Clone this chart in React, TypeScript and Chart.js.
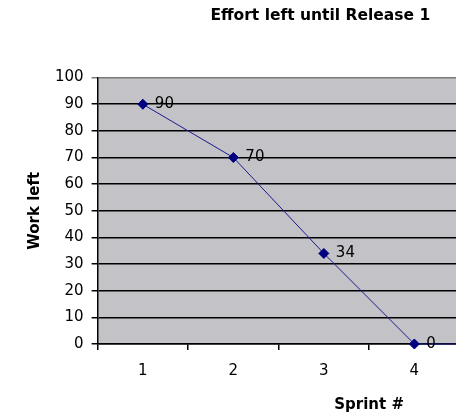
import React, { useEffect, useRef } from "react";
import { Chart, registerables } from "chart.js";

Chart.register(...registerables);

const sprints = ["1", "2", "3", "4", "5", "6"];
const workLeft = [90, 70, 34, 0, 0, 0];
const chartTitle = "Effort left until Release 1";
const yTitle = "Work left";
const xTitle = "Sprint #";

const plotBg = {
  id: "plotBg",
  beforeDraw(chart: any) {
    const { ctx, chartArea } = chart;
    ctx.save();
    ctx.fillStyle = "#C3C2C6";
    ctx.fillRect(chartArea.left, chartArea.top, chartArea.right - chartArea.left, chartArea.bottom - chartArea.top);
    ctx.restore();
  },
};

const dataLabels = {
  id: "dataLabels",
  afterDatasetsDraw(chart: any) {
    const { ctx } = chart;
    const meta = chart.getDatasetMeta(0);
    const values = chart.data.datasets[0].data;
    ctx.save();
    ctx.font = "15px 'DejaVu Sans'";
    ctx.fillStyle = "#000";
    ctx.textAlign = "left";
    ctx.textBaseline = "middle";
    meta.data.forEach((pt: any, i: number) => {
      ctx.fillText(String(values[i]), pt.x + 12, pt.y);
    });
    ctx.restore();
  },
};

export default function App() {
  const ref = useRef<HTMLCanvasElement>(null);
  useEffect(() => {
    if (!ref.current) return;
    const chart = new Chart(ref.current, {
      type: "line",
      data: {
        labels: sprints,
        datasets: [
          {
            data: workLeft,
            borderColor: "#1A1A90",
            borderWidth: 1,
            backgroundColor: "#000080",
            pointStyle: "rectRot",
            pointRadius: 5,
            pointBackgroundColor: "#000080",
            pointBorderColor: "#000080",
            pointBorderWidth: 1,
            tension: 0,
            clip: false,
          },
        ],
      },
      options: {
        animation: false,
        responsive: false,
        devicePixelRatio: 1,
        layout: { padding: { left: 0, right: 7.4, top: 0, bottom: 0 } },
        plugins: {
          legend: { display: false },
          tooltip: { enabled: false },
          title: {
            display: true,
            text: chartTitle,
            color: "#000",
            font: { family: "'DejaVu Sans'", size: 15.5, weight: "bold" },
            padding: { top: 7, bottom: 52 },
          },
        },
        scales: {
          x: {
            type: "category",
            offset: true,
            grid: {
              offset: true,
              drawOnChartArea: false,
              drawTicks: true,
              tickLength: 6,
              color: "#000",
              lineWidth: 1.5,
            },
            border: { color: "#000", width: 1.5 },
            ticks: {
              color: "#000",
              font: { family: "'DejaVu Sans'", size: 15 },
              padding: 12,
              maxRotation: 0,
              autoSkip: false,
            },
            title: {
              display: true,
              text: xTitle,
              color: "#000",
              font: { family: "'DejaVu Sans'", size: 15, weight: "bold" },
              padding: { top: 0, bottom: 1 },
            },
            afterFit(scale: any) {
              scale.height = 71;
            },
          },
          y: {
            min: 0,
            max: 100,
            ticks: {
              stepSize: 10,
              color: "#000",
              font: { family: "'DejaVu Sans'", size: 15 },
              padding: 8,
            },
            grid: {
              color: (c: any) => (c.tick && c.tick.value === 100 ? "#7A7A7A" : "#000"),
              lineWidth: 1.5,
              tickLength: 6,
              drawTicks: true,
            },
            border: { color: "#000", width: 1.5 },
            title: {
              display: true,
              text: yTitle,
              color: "#000",
              font: { family: "'DejaVu Sans'", size: 15, weight: "bold" },
              padding: { top: 26, bottom: 0 },
            },
            afterFit(scale: any) {
              scale.width = 97.6;
            },
          },
        },
      },
      plugins: [plotBg, dataLabels],
    });
    return () => chart.destroy();
  }, []);
  return (
    <div style={{ position: "fixed", left: 0, top: 0, width: 456, height: 415, overflow: "hidden", background: "#fff" }}>
      <canvas ref={ref} width={648} height={415} style={{ display: "block", width: 648, height: 415 }} />
    </div>
  );
}
